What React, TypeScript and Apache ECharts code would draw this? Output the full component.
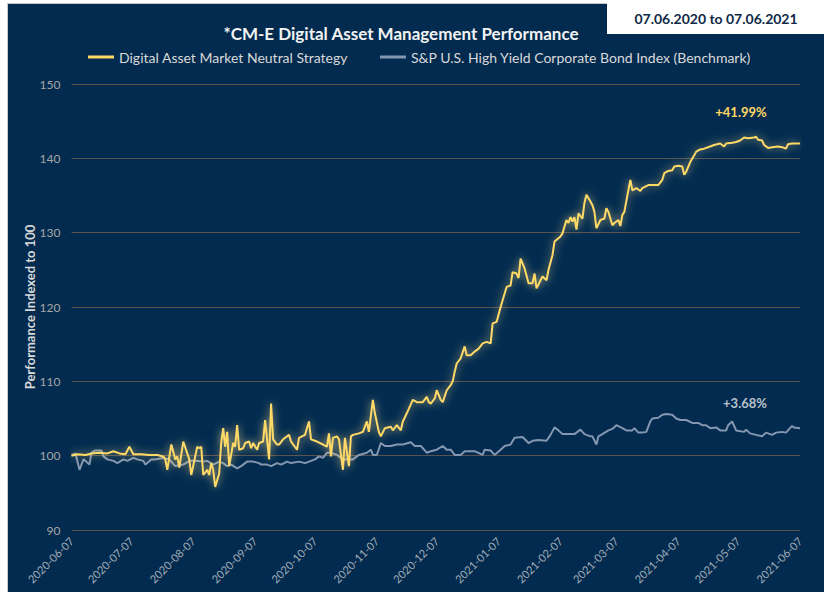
import React, { useEffect, useRef } from "react";
import * as echarts from "echarts";

const strategyDates = [
  "2020-06-07","2020-06-10","2020-06-14","2020-06-17","2020-06-21","2020-06-25","2020-06-28","2020-07-01","2020-07-04","2020-07-06",
  "2020-07-08","2020-07-12","2020-07-16","2020-07-20","2020-07-23","2020-07-24","2020-07-25","2020-07-27","2020-07-29","2020-07-30",
  "2020-07-31","2020-08-02","2020-08-05","2020-08-06","2020-08-08","2020-08-09","2020-08-10","2020-08-11","2020-08-12","2020-08-14",
  "2020-08-15","2020-08-16","2020-08-17","2020-08-18","2020-08-20","2020-08-21","2020-08-22","2020-08-23","2020-08-24","2020-08-25",
  "2020-08-27","2020-08-28","2020-08-29","2020-08-30","2020-09-01","2020-09-02","2020-09-04","2020-09-05","2020-09-06","2020-09-08",
  "2020-09-09","2020-09-11","2020-09-12","2020-09-14","2020-09-15","2020-09-16","2020-09-18","2020-09-19","2020-09-21","2020-09-24",
  "2020-09-25","2020-09-28","2020-09-29","2020-10-02","2020-10-04","2020-10-05","2020-10-08","2020-10-11","2020-10-13","2020-10-14",
  "2020-10-15","2020-10-16","2020-10-18","2020-10-19","2020-10-21","2020-10-22","2020-10-24","2020-10-25","2020-10-26","2020-10-29",
  "2020-10-31","2020-11-02","2020-11-03","2020-11-05","2020-11-06","2020-11-08","2020-11-09","2020-11-11","2020-11-14","2020-11-15",
  "2020-11-17","2020-11-19","2020-11-20","2020-11-22","2020-11-25","2020-11-27","2020-11-30","2020-12-02","2020-12-03","2020-12-04",
  "2020-12-06","2020-12-07","2020-12-09","2020-12-10","2020-12-12","2020-12-14","2020-12-15","2020-12-16","2020-12-17","2020-12-19",
  "2020-12-21","2020-12-22","2020-12-24","2020-12-26","2020-12-28","2020-12-30","2021-01-01","2021-01-03","2021-01-04","2021-01-06",
  "2021-01-08","2021-01-09","2021-01-11","2021-01-13","2021-01-14","2021-01-16","2021-01-17","2021-01-18","2021-01-20","2021-01-22",
  "2021-01-24","2021-01-25","2021-01-26","2021-01-28","2021-01-29","2021-01-31","2021-02-01","2021-02-03","2021-02-04","2021-02-07",
  "2021-02-08","2021-02-10","2021-02-11","2021-02-12","2021-02-13","2021-02-14","2021-02-15","2021-02-16","2021-02-18","2021-02-19",
  "2021-02-20","2021-02-22","2021-02-23","2021-02-24","2021-02-25","2021-02-27","2021-03-01","2021-03-02","2021-03-03","2021-03-05",
  "2021-03-06","2021-03-08","2021-03-09","2021-03-10","2021-03-11","2021-03-13","2021-03-14","2021-03-15","2021-03-17","2021-03-19",
  "2021-03-20","2021-03-23","2021-03-25","2021-03-28","2021-03-30","2021-03-31","2021-04-02","2021-04-04","2021-04-05","2021-04-07",
  "2021-04-09","2021-04-10","2021-04-11","2021-04-13","2021-04-15","2021-04-16","2021-04-18","2021-04-20","2021-04-23","2021-04-25",
  "2021-04-28","2021-04-30","2021-05-01","2021-05-04","2021-05-06","2021-05-08","2021-05-10","2021-05-12","2021-05-15","2021-05-16",
  "2021-05-17","2021-05-19","2021-05-20","2021-05-22","2021-05-24","2021-05-27","2021-05-29","2021-05-31","2021-06-01","2021-06-03",
  "2021-06-05","2021-06-07",
];
const strategyValues = [
  100.0,100.2,100.1,100.3,100.4,100.3,100.6,100.3,100.2,101.2,
  100.2,100.2,100.1,100.1,99.9,99.5,98.1,101.5,99.5,99.9,
  98.4,101.9,99.5,97.4,99.9,101.2,101.0,101.2,97.4,98.1,
  97.4,99.0,98.1,95.8,97.6,101.7,103.7,101.2,103.2,98.6,
  101.7,101.2,104.1,100.8,101.0,101.7,101.9,101.0,101.7,100.8,
  101.7,101.9,104.8,99.5,107.0,102.2,101.5,101.5,102.2,102.8,
  101.9,100.8,102.4,102.8,104.6,102.2,101.9,101.5,101.2,103.0,
  99.9,102.4,102.6,102.2,98.1,102.4,98.6,102.6,102.8,103.0,
  103.2,104.6,103.2,107.5,105.7,103.2,102.6,103.7,103.9,103.4,
  104.1,103.4,104.6,105.7,107.5,107.2,107.2,107.9,107.2,107.0,
  107.7,108.8,107.5,107.2,108.8,109.5,110.0,111.3,112.4,113.1,
  114.7,113.5,113.5,114.0,114.4,115.1,115.3,115.1,117.8,118.0,
  120.0,120.9,122.7,122.9,124.7,124.5,123.9,126.5,125.2,123.2,
  123.2,124.5,122.5,123.6,124.1,123.6,125.0,127.0,128.8,129.5,
  129.9,131.7,131.3,132.1,131.5,132.1,130.4,132.6,131.9,134.0,
  135.1,134.2,133.7,132.8,130.6,131.7,131.9,133.3,132.8,131.0,
  131.3,131.7,130.9,132.4,132.8,135.7,137.1,135.7,136.0,135.6,
  136.0,136.4,136.4,136.4,137.1,138.0,138.3,138.4,138.9,139.0,
  138.9,137.8,138.2,139.5,140.4,140.9,141.2,141.3,141.6,141.8,
  142.0,141.6,142.0,142.1,142.2,142.4,142.8,142.7,142.8,142.9,
  142.5,142.4,141.8,141.4,141.5,141.6,141.5,141.3,141.9,142.0,
  142.0,141.99,
];

const benchmarkDates = [
  "2020-06-07","2020-06-09","2020-06-11","2020-06-13","2020-06-14","2020-06-16","2020-06-17","2020-06-19","2020-06-22","2020-06-23",
  "2020-06-25","2020-06-28","2020-06-30","2020-07-03","2020-07-05","2020-07-08","2020-07-10","2020-07-13","2020-07-14","2020-07-17",
  "2020-07-19","2020-07-23","2020-07-26","2020-07-29","2020-08-02","2020-08-05","2020-08-08","2020-08-12","2020-08-14","2020-08-17",
  "2020-08-20","2020-08-22","2020-08-24","2020-08-26","2020-08-29","2020-08-31","2020-09-03","2020-09-06","2020-09-09","2020-09-10",
  "2020-09-13","2020-09-15","2020-09-18","2020-09-20","2020-09-23","2020-09-25","2020-09-29","2020-10-02","2020-10-04","2020-10-07",
  "2020-10-09","2020-10-11","2020-10-13","2020-10-15","2020-10-18","2020-10-20","2020-10-21","2020-10-26","2020-10-29","2020-11-02",
  "2020-11-04","2020-11-05","2020-11-07","2020-11-09","2020-11-11","2020-11-14","2020-11-17","2020-11-20","2020-11-24","2020-11-26",
  "2020-11-29","2020-12-02","2020-12-04","2020-12-07","2020-12-10","2020-12-12","2020-12-14","2020-12-16","2020-12-19","2020-12-21",
  "2020-12-24","2020-12-26","2020-12-30","2020-12-31","2021-01-03","2021-01-05","2021-01-08","2021-01-10","2021-01-13","2021-01-15",
  "2021-01-19","2021-01-22","2021-01-24","2021-01-27","2021-01-31","2021-02-02","2021-02-04","2021-02-06","2021-02-08","2021-02-11",
  "2021-02-14","2021-02-17","2021-02-19","2021-02-22","2021-02-23","2021-02-25","2021-02-26","2021-02-28","2021-03-03","2021-03-05",
  "2021-03-07","2021-03-10","2021-03-12","2021-03-15","2021-03-16","2021-03-18","2021-03-20","2021-03-22","2021-03-24","2021-03-25",
  "2021-03-28","2021-03-30","2021-04-01","2021-04-04","2021-04-06","2021-04-08","2021-04-11","2021-04-14","2021-04-17","2021-04-19",
  "2021-04-21","2021-04-23","2021-04-26","2021-04-28","2021-05-01","2021-05-02","2021-05-04","2021-05-06","2021-05-10","2021-05-11",
  "2021-05-13","2021-05-16","2021-05-19","2021-05-21","2021-05-24","2021-05-26","2021-05-29","2021-05-31","2021-06-03","2021-06-04",
  "2021-06-07",
];
const benchmarkValues = [
  100.1,100.3,98.1,99.5,99.3,98.8,100.4,100.7,100.7,99.9,
  99.5,99.3,99.0,99.5,99.3,99.7,99.5,99.3,98.8,99.5,
  99.5,99.7,99.5,98.6,98.8,99.3,99.3,99.2,99.3,98.8,
  99.2,99.0,98.6,98.8,98.3,98.6,99.2,99.2,99.0,98.8,
  98.8,98.6,99.0,98.8,99.2,99.0,99.2,99.0,99.2,99.5,
  99.9,99.7,100.4,100.4,100.1,99.7,99.5,99.5,100.1,100.4,
  100.8,100.1,100.1,101.7,101.3,101.3,101.5,101.5,101.8,101.3,
  101.3,100.4,100.6,100.8,101.3,100.8,100.8,100.1,100.1,100.6,
  100.6,100.6,100.1,100.8,100.7,100.1,100.8,101.3,101.5,102.4,
  102.5,101.7,102.0,102.1,102.0,102.8,103.8,103.4,102.9,102.9,
  102.9,103.5,102.9,102.6,102.6,101.5,102.6,102.9,103.4,103.6,
  104.1,103.7,103.4,103.4,103.7,103.1,103.1,103.2,104.6,105.0,
  105.1,105.5,105.6,105.5,105.0,104.8,104.8,104.4,104.4,104.1,
  104.1,103.7,103.8,103.4,103.4,104.1,104.6,103.4,103.2,103.5,
  103.0,102.8,102.6,103.1,102.8,103.1,103.2,103.1,104.0,103.8,
  103.68,
];

const xTickDates = [
  "2020-06-07","2020-07-07","2020-08-07","2020-09-07","2020-10-07","2020-11-07","2020-12-07",
  "2021-01-07","2021-02-07","2021-03-07","2021-04-07","2021-05-07","2021-06-07",
];

const seriesNames = [
  "Digital Asset Market Neutral Strategy",
  "S&P U.S. High Yield Corporate Bond Index (Benchmark)",
];
const endLabels = ["+41.99%", "+3.68%"];
const titleText = "*CM-E Digital Asset Management Performance";
const periodText = "07.06.2020 to 07.06.2021";
const yAxisTitle = "Performance Indexed to 100";

const NAVY = "#022b4f";
const GOLD = "#FFD966";
const STEEL = "#8497B0";
const FONT = "Lato, 'Open Sans', sans-serif";

const toTime = (s: string) => {
  const [y, m, d] = s.split("-").map(Number);
  return Date.UTC(y, m - 1, d);
};
const fmtTime = (v: number) => {
  const dt = new Date(v);
  const p = (n: number) => String(n).padStart(2, "0");
  return `${dt.getUTCFullYear()}-${p(dt.getUTCMonth() + 1)}-${p(dt.getUTCDate())}`;
};

export default function App() {
  const ref = useRef<HTMLDivElement>(null);
  useEffect(() => {
    if (!ref.current) return;
    const chart = echarts.init(ref.current, undefined, { renderer: "svg" });
    const tickValues = xTickDates.map(toTime);
    const strategyData = strategyDates.map((d, i) => [toTime(d), strategyValues[i]]);
    const benchmarkData = benchmarkDates.map((d, i) => [toTime(d), benchmarkValues[i]]);

    chart.setOption({
      animation: false,
      backgroundColor: "#ffffff",
      textStyle: { fontFamily: FONT },
      graphic: [
        {
          type: "rect",
          z: -10,
          shape: { x: 7.5, y: 3.5, width: 820, height: 592 },
          style: { fill: NAVY, stroke: "#c8c8c8", lineWidth: 1 },
          silent: true,
        },
        {
          type: "rect",
          z: 10,
          shape: { x: 607, y: 3, width: 217, height: 31 },
          style: { fill: "#ffffff" },
          silent: true,
        },
        {
          type: "text",
          z: 11,
          x: 716,
          y: 18.5,
          style: {
            text: periodText,
            fill: "#0f2a47",
            font: `bold 14px ${FONT}`,
            align: "center",
            verticalAlign: "middle",
          },
        },
        {
          type: "text",
          x: 401,
          y: 33,
          style: {
            text: titleText,
            fill: "#f2f2f2",
            font: `bold 17px ${FONT}`,
            align: "center",
            verticalAlign: "middle",
          },
        },
        {
          type: "text",
          x: 741,
          y: 112,
          style: {
            text: endLabels[0],
            fill: GOLD,
            font: `bold 13px ${FONT}`,
            align: "center",
            verticalAlign: "middle",
          },
        },
        {
          type: "text",
          x: 745,
          y: 403,
          style: {
            text: endLabels[1],
            fill: "#b8c2ce",
            font: `bold 13px ${FONT}`,
            align: "center",
            verticalAlign: "middle",
          },
        },
      ],
      legend: {
        left: 83,
        top: 45,
        itemWidth: 26,
        itemHeight: 3,
        itemGap: 32,
        icon: "rect",
        textStyle: { color: "#d9d9d9", fontSize: 14, fontFamily: FONT },
        data: seriesNames,
      },
      grid: {
        left: 71.5,
        right: 24,
        top: 84,
        bottom: 62,
        outerBoundsMode: "none",
      },
      xAxis: {
        type: "value",
        min: tickValues[0],
        max: tickValues[tickValues.length - 1],
        axisLine: { show: false },
        axisTick: { show: false },
        splitLine: { show: false },
        axisLabel: {
          customValues: tickValues,
          rotate: 45,
          color: "#a3adb8",
          fontSize: 11,
          fontFamily: FONT,
          margin: 9,
          hideOverlap: false,
          showMinLabel: true,
          showMaxLabel: true,
          formatter: (v: number) => fmtTime(v),
        },
      },
      yAxis: {
        type: "value",
        min: 90,
        max: 150,
        interval: 10,
        name: yAxisTitle,
        nameLocation: "middle",
        nameGap: 35,
        nameRotate: 90,
        nameMoveOverlap: false,
        nameTextStyle: { color: "#d9d9d9", fontSize: 13, fontWeight: "bold", fontFamily: FONT },
        axisLine: { show: false },
        axisTick: { show: false },
        axisLabel: { color: "#a6a6a6", fontSize: 12, margin: 11, fontFamily: FONT },
        splitLine: { lineStyle: { color: "#58534e", width: 1 } },
      },
      series: [
        {
          name: seriesNames[1],
          type: "line",
          data: benchmarkData,
          showSymbol: false,
          symbol: "none",
          z: 2,
          itemStyle: { color: STEEL },
          lineStyle: { color: STEEL, width: 2 },
        },
        {
          name: seriesNames[0],
          type: "line",
          data: strategyData,
          showSymbol: false,
          symbol: "none",
          z: 3,
          itemStyle: { color: GOLD },
          lineStyle: {
            color: GOLD,
            width: 2,
            shadowColor: "rgba(255, 225, 140, 0.75)",
            shadowBlur: 8,
          },
        },
      ],
    });
    return () => chart.dispose();
  }, []);

  return (
    <div
      ref={ref}
      style={{ position: "absolute", left: 0, top: 0, width: 824, height: 592 }}
    />
  );
}
